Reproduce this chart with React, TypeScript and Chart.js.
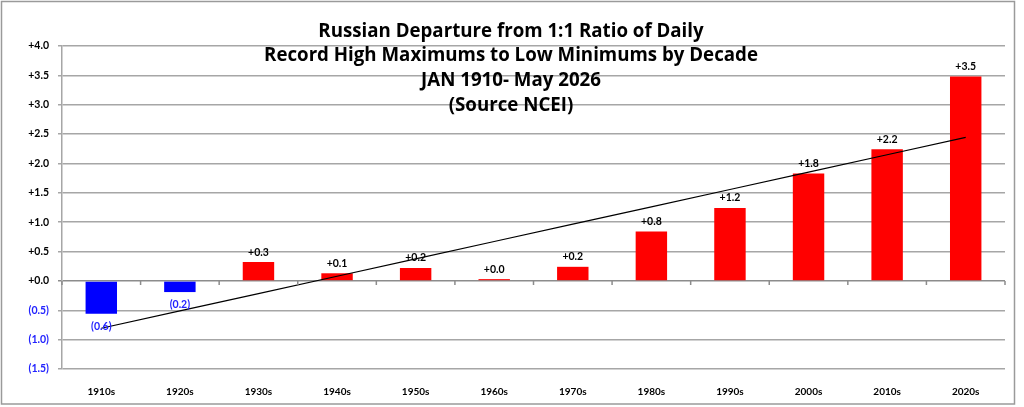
import { useEffect, useRef } from 'react';
import Chart from 'chart.js/auto';

const decades = ['1910s', '1920s', '1930s', '1940s', '1950s', '1960s', '1970s', '1980s', '1990s', '2000s', '2010s', '2020s'];
const departure = [-0.56, -0.19, 0.32, 0.13, 0.22, 0.03, 0.24, 0.84, 1.24, 1.83, 2.24, 3.48];
const titleLines = [
  'Russian Departure from 1:1 Ratio of Daily',
  'Record High Maximums to Low Minimums by Decade',
  'JAN 1910- May 2026',
  '(Source NCEI)',
];
const yMin = -1.5;
const yMax = 4.0;
const yStep = 0.5;

const RED = '#ff0000';
const BLUE = '#0000ff';
const LABEL_BLUE = '#2222ff';
const GRID = '#a6a6a6';
const FONT = 'Lato';
const TITLE_FONT = '"Open Sans"';

const fmt = (v: number) => (v < 0 ? `(${Math.abs(v).toFixed(1)})` : `+${v.toFixed(1)}`);

// least-squares trend line over the decade index
function trend(values: number[]) {
  const n = values.length;
  const mx = (n - 1) / 2;
  const my = values.reduce((a, b) => a + b, 0) / n;
  let num = 0;
  let den = 0;
  values.forEach((v, i) => {
    num += (i - mx) * (v - my);
    den += (i - mx) * (i - mx);
  });
  const slope = num / den;
  return values.map((_, i) => my + slope * (i - mx));
}

const framePlugin = {
  id: 'frame',
  beforeDraw(chart: any) {
    const { ctx, width, height } = chart;
    ctx.save();
    ctx.fillStyle = '#ffffff';
    ctx.fillRect(0, 0, width, height);
    ctx.strokeStyle = '#9a9a9a';
    ctx.lineWidth = 1.5;
    ctx.strokeRect(1.5, 1.5, 1013, 402.5);
    ctx.restore();
  },
};

const zeroTicksPlugin = {
  id: 'zeroTicks',
  afterDraw(chart: any) {
    const { ctx, scales } = chart;
    const x = scales.x;
    const y0 = scales.y.getPixelForValue(0);
    const step = (x.right - x.left) / decades.length;
    ctx.save();
    ctx.strokeStyle = '#8c8c8c';
    ctx.lineWidth = 1.5;
    ctx.beginPath();
    for (let i = 0; i <= decades.length; i++) {
      const px = x.left + step * i;
      ctx.moveTo(px, y0);
      ctx.lineTo(px, y0 + 4);
    }
    ctx.stroke();
    ctx.restore();
  },
};

const barLabelsPlugin = {
  id: 'barLabels',
  afterDatasetsDraw(chart: any) {
    const { ctx } = chart;
    const meta = chart.getDatasetMeta(0);
    ctx.save();
    ctx.font = `bold 10.5px ${FONT}`;
    ctx.textAlign = 'center';
    ctx.textBaseline = 'middle';
    meta.data.forEach((el: any, i: number) => {
      const v = departure[i];
      ctx.fillStyle = v < 0 ? LABEL_BLUE : '#000000';
      ctx.fillText(fmt(v), el.x, v < 0 ? el.y + 13 : el.y - 10);
    });
    ctx.restore();
  },
};

const titlePlugin = {
  id: 'overlayTitle',
  afterDraw(chart: any) {
    const { ctx } = chart;
    const ys = [32, 56, 81, 106];
    ctx.save();
    ctx.font = `bold 18.7px ${TITLE_FONT}`;
    ctx.fillStyle = '#000000';
    ctx.textAlign = 'center';
    ctx.textBaseline = 'middle';
    titleLines.forEach((line, i) => ctx.fillText(line, 511, ys[i]));
    ctx.restore();
  },
};

export default function App() {
  const canvasRef = useRef<HTMLCanvasElement>(null);

  useEffect(() => {
    document.body.style.margin = '0';
    if (!canvasRef.current) return;

    const chart = new Chart(canvasRef.current, {
      type: 'bar',
      data: {
        labels: decades,
        datasets: [
          {
            type: 'bar',
            data: departure,
            backgroundColor: departure.map((v) => (v < 0 ? BLUE : RED)),
            barPercentage: 0.4,
            categoryPercentage: 1,
            order: 2,
          },
          {
            type: 'line',
            data: trend(departure),
            borderColor: '#000000',
            borderWidth: 1.2,
            pointRadius: 0,
            fill: false,
            order: 1,
          },
        ],
      },
      options: {
        responsive: false,
        animation: false,
        layout: { padding: { top: 46, right: 19, left: 0, bottom: 0 } },
        plugins: {
          legend: { display: false },
          tooltip: { enabled: false },
          title: { display: false },
        },
        scales: {
          x: {
            grid: { display: false },
            border: { display: false },
            ticks: {
              color: '#000000',
              padding: 9,
              font: { family: FONT, size: 10, weight: 'bold' },
            },
            afterFit: (s: any) => {
              s.height = 38;
            },
          },
          y: {
            min: yMin,
            max: yMax,
            grid: {
              color: (c: any) => (c.tick && c.tick.value === 0 ? '#8c8c8c' : GRID),
              lineWidth: 1.5,
              tickLength: 4,
            },
            border: { display: true, color: GRID, width: 1.5 },
            ticks: {
              stepSize: yStep,
              padding: 9,
              color: (c: any) => (c.tick && c.tick.value < 0 ? LABEL_BLUE : '#000000'),
              font: { family: FONT, size: 10.5, weight: 'bold' },
              callback: (v: any) => fmt(Number(v)),
            },
            afterFit: (s: any) => {
              s.width = 62;
            },
          },
        },
      },
      plugins: [framePlugin, zeroTicksPlugin, barLabelsPlugin, titlePlugin],
    });

    return () => chart.destroy();
  }, []);

  return (
    <div style={{ width: 1024, height: 407 }}>
      <canvas ref={canvasRef} width={1024} height={407} />
    </div>
  );
}
